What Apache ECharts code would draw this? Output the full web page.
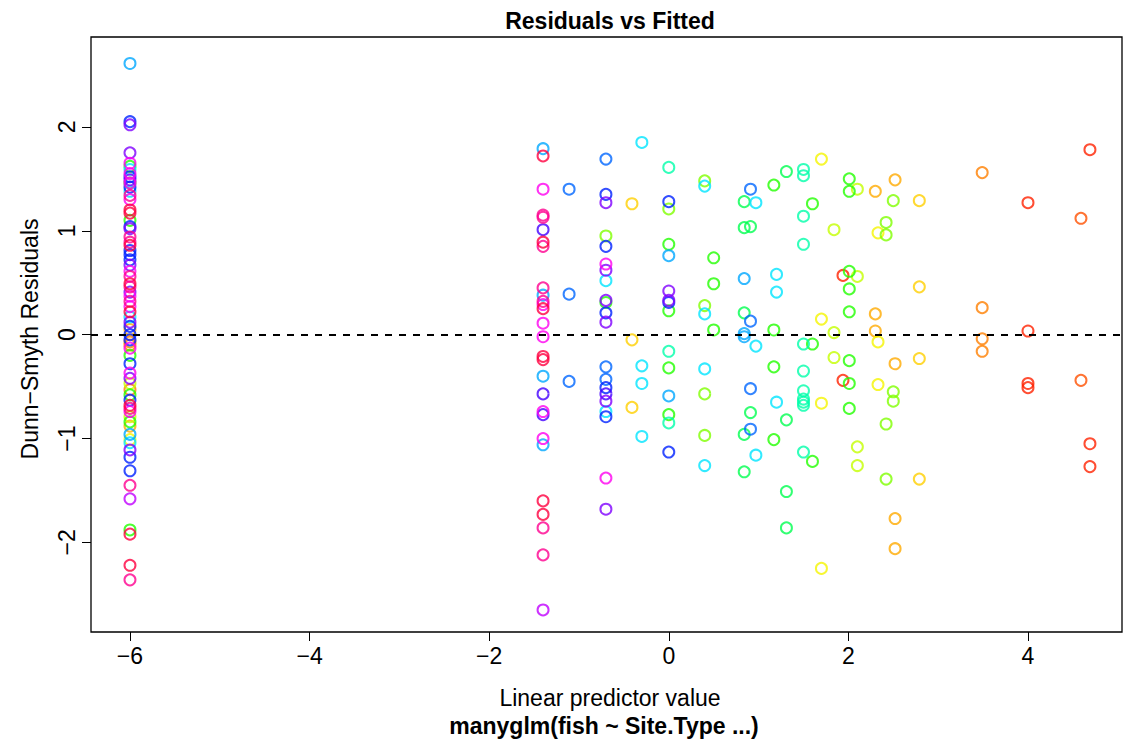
<!DOCTYPE html>
<html>
<head>
<meta charset="utf-8">
<script src="https://cdn.jsdelivr.net/npm/echarts@6/dist/echarts.min.js"></script>
<style>
  html, body { margin: 0; padding: 0; background: #fff; }
  #residChart { width: 1124px; height: 744px; }
</style>
</head>
<body>
<div id="residChart"></div>
<script>
// axis ticks
const xTicks = [-6, -4, -2, 0, 2, 4];
const yTicks = [-2, -1, 0, 1, 2];

// residuals per species colour, [fitted, residual]
const crimsonPts = [
  [-6, 1.20], [-6, 1.17], [-6, 0.86], [-6, 0.49], [-6, 0.22], [-6, -0.68], [-6, -1.92], [-6, -2.22],
  [-1.4, 1.72], [-1.4, 0.89], [-1.4, 0.25], [-1.4, -0.21], [-1.4, -0.24], [-1.4, -1.60], [-1.4, -1.73]
];
const pinkPts = [
  [-6, 1.34], [-6, 0.94], [-6, 0.89], [-6, 0.56], [-6, 0.46], [-6, 0.32], [-6, -0.71], [-6, -1.45], [-6, -2.36],
  [-1.4, 1.15], [-1.4, 1.13], [-1.4, 0.85], [-1.4, 0.45], [-1.4, 0.32], [-1.4, -1.86], [-1.4, -2.12]
];
const magentaPts = [
  [-6, 1.65], [-6, 1.55], [-6, 1.46], [-6, 1.30], [-6, 0.61], [-6, 0.37], [-6, 0.27], [-6, -0.13], [-6, -0.37], [-6, -0.74],
  [-1.4, 1.40], [-1.4, 0.29], [-1.4, 0.11], [-1.4, -0.02], [-1.4, -0.74], [-1.4, -1.00],
  [-0.7, 0.68], [-0.7, -1.38]
];
const purplePts = [[-6, -1.58], [-1.4, -2.65]];
const violetPts = [
  [-6, 2.02], [-6, 1.75], [-6, 1.49], [-6, 1.02], [-6, 0.67], [-6, 0.41], [-6, 0.12], [-6, -0.42], [-6, -1.11],
  [-0.7, 1.27], [-0.7, 0.62], [-0.7, 0.33], [-0.7, 0.12], [-0.7, -0.64], [-0.7, -1.68],
  [0, 0.42], [0, 0.33]
];
const indigoPts = [[-1.4, 1.01], [-1.4, -0.57], [-1.4, -0.77], [-0.7, -0.57]];
const bluePts = [
  [-6, 2.05], [-6, 1.52], [-6, 1.42], [-6, 1.04], [-6, 0.81], [-6, 0.77], [-6, 0.72], [-6, 0.08], [-6, 0.00],
  [-6, -0.05], [-6, -0.28], [-6, -0.63], [-6, -1.18], [-6, -1.31],
  [-0.7, 1.35], [-0.7, 0.85], [-0.7, 0.21], [-0.7, -0.51], [-0.7, -0.79],
  [0, 1.28], [0, 0.31], [0, -1.13]
];
const azurePts = [
  [-1.11, 1.40], [-1.11, 0.39], [-1.11, -0.45],
  [-0.7, 1.69], [-0.7, -0.31], [-0.7, -0.43],
  [0.91, 1.40], [0.91, 0.13], [0.91, -0.52], [0.91, -0.91]
];
const skyPts = [
  [-6, 2.61], [-6, -0.96],
  [-1.4, 1.79], [-1.4, 0.38], [-1.4, -0.40], [-1.4, -1.06],
  [0, 0.76], [0, -0.59],
  [0.84, 0.54], [0.84, 0.01], [0.84, -0.02]
];
const cyanPts = [
  [-6, 1.59], [-6, 1.38], [-6, 0.17], [-6, -1.04],
  [-0.7, 0.52], [-0.7, -0.74],
  [-0.3, 1.85], [-0.3, -0.30], [-0.3, -0.47], [-0.3, -0.98],
  [0.4, 1.43], [0.4, 0.20], [0.4, -0.33], [0.4, -1.26],
  [0.97, 1.27], [0.97, -0.11], [0.97, -1.16],
  [1.2, 0.58], [1.2, 0.41], [1.2, -0.65]
];
const aquaPts = [
  [0, 1.61], [0, -0.16], [0, -0.85],
  [1.5, 1.59], [1.5, 1.53], [1.5, 1.14], [1.5, 0.87], [1.5, -0.09], [1.5, -0.35], [1.5, -0.54],
  [1.5, -0.62], [1.5, -0.65], [1.5, -0.68], [1.5, -1.13]
];
const springPts = [
  [0.84, 1.28], [0.84, 1.03], [0.84, 0.21], [0.84, -0.96], [0.84, -1.32],
  [0.91, 1.04], [0.91, -0.75],
  [1.31, 1.57], [1.31, -0.82], [1.31, -1.51], [1.31, -1.86]
];
const greenPts = [
  [-6, 1.62], [-6, 1.46], [-6, 1.10], [-6, -0.20], [-6, -0.58], [-6, -0.84], [-6, -1.88],
  [-0.7, 0.31],
  [0, 0.87], [0, 0.23], [0, -0.32], [0, -0.77],
  [0.5, 0.74], [0.5, 0.49], [0.5, 0.045],
  [1.17, 1.44], [1.17, 0.045], [1.17, -0.31], [1.17, -1.01],
  [1.6, 1.26], [1.6, -0.09], [1.6, -1.22],
  [2.01, 1.50], [2.01, 1.38], [2.01, 0.61], [2.01, 0.44], [2.01, 0.22], [2.01, -0.25], [2.01, -0.47], [2.01, -0.71]
];
const chartreusePts = [
  [-0.7, 0.95], [0, 1.21],
  [0.4, 1.48], [0.4, 0.28], [0.4, -0.57], [0.4, -0.97],
  [2.42, 1.08], [2.42, 0.96], [2.42, -0.86], [2.42, -1.39],
  [2.5, 1.29], [2.5, -0.55], [2.5, -0.64]
];
const limePts = [
  [-6, -0.47], [-6, -0.79],
  [1.84, 1.01], [1.84, 0.02], [1.84, -0.22],
  [2.1, 1.40], [2.1, 0.56], [2.1, -1.08], [2.1, -1.26]
];
const yellowPts = [
  [-6, -1.01],
  [1.7, 1.69], [1.7, 0.15], [1.7, -0.66], [1.7, -2.25],
  [2.33, 0.98], [2.33, -0.07], [2.33, -0.48]
];
const goldPts = [
  [-0.41, 1.26], [-0.41, -0.05], [-0.41, -0.70],
  [2.79, 1.29], [2.79, 0.46], [2.79, -0.23], [2.79, -1.39]
];
const amberPts = [
  [-6, 0.05], [-6, -0.88],
  [2.3, 1.38], [2.3, 0.20], [2.3, 0.035],
  [2.52, 1.49], [2.52, -0.28], [2.52, -1.77], [2.52, -2.06]
];
const orangePts = [
  [-6, -0.07], [-6, -0.10], [-6, -0.53],
  [3.49, 1.56], [3.49, 0.26], [3.49, -0.04], [3.49, -0.16]
];
const redOrangePts = [[4.59, 1.12], [4.59, -0.44]];
const redPts = [
  [1.94, 0.57], [1.94, -0.44],
  [4.0, 1.27], [4.0, 0.035], [4.0, -0.47], [4.0, -0.51],
  [4.69, 1.78], [4.69, -1.05], [4.69, -1.27]
];

const groups = [
  { pts: redPts, color: '#ff2200' },
  { pts: redOrangePts, color: '#ff5000' },
  { pts: orangePts, color: '#ff8000' },
  { pts: amberPts, color: '#ffaa00' },
  { pts: goldPts, color: '#ffd000' },
  { pts: yellowPts, color: '#f5f500' },
  { pts: limePts, color: '#c4ff00' },
  { pts: chartreusePts, color: '#80ff00' },
  { pts: greenPts, color: '#22ff00' },
  { pts: springPts, color: '#00ff50' },
  { pts: aquaPts, color: '#00ffaa' },
  { pts: cyanPts, color: '#00e5ff' },
  { pts: skyPts, color: '#00a8ff' },
  { pts: azurePts, color: '#0066ff' },
  { pts: bluePts, color: '#0022ff' },
  { pts: indigoPts, color: '#4400ff' },
  { pts: violetPts, color: '#8000ff' },
  { pts: purplePts, color: '#c000ff' },
  { pts: magentaPts, color: '#ff00f0' },
  { pts: pinkPts, color: '#ff0090' },
  { pts: crimsonPts, color: '#ff0040' }
];

const FONT = '"Liberation Sans", Arial, Helvetica, sans-serif';

const series = groups.map(function (g, i) {
  const s = {
    type: 'scatter',
    data: g.pts,
    symbol: 'circle',
    symbolSize: 11,
    itemStyle: {
      color: 'rgba(0,0,0,0)',
      borderColor: g.color,
      borderWidth: 2
    },
    silent: true
  };
  if (i === 0) {
    s.markLine = {
      silent: true,
      symbol: 'none',
      label: { show: false },
      lineStyle: { color: '#000', width: 2.2, type: [7, 7] },
      data: [{ yAxis: 0 }]
    };
  }
  return s;
});

const myChart = echarts.init(document.getElementById('residChart'), null, { renderer: 'svg' });
myChart.setOption({
  animation: false,
  backgroundColor: '#fff',
  grid: {
    left: 91,
    right: 2,
    top: 37,
    bottom: 112,
    show: true,
    borderColor: '#000',
    borderWidth: 1.3
  },
  xAxis: {
    type: 'value',
    min: -6.434,
    max: 5.047,
    axisLine: { show: false, onZero: false },
    splitLine: { show: false },
    axisTick: {
      show: true,
      inside: false,
      length: 9,
      customValues: xTicks,
      lineStyle: { color: '#000', width: 1 }
    },
    axisLabel: {
      customValues: xTicks,
      margin: 12,
      color: '#000',
      fontSize: 23,
      fontFamily: FONT,
      formatter: function (v) { return String(v).replace('-', '\u2212'); }
    }
  },
  yAxis: {
    type: 'value',
    min: -2.862,
    max: 2.865,
    axisLine: { show: false, onZero: false },
    splitLine: { show: false },
    axisTick: {
      show: true,
      inside: false,
      length: 9,
      customValues: yTicks,
      lineStyle: { color: '#000', width: 1 }
    },
    axisLabel: {
      customValues: yTicks,
      rotate: 90,
      margin: 13,
      color: '#000',
      fontSize: 23,
      fontFamily: FONT,
      formatter: function (v) { return String(v).replace('-', '\u2212'); }
    }
  },
  graphic: [
    {
      type: 'text', x: 610, y: 21,
      style: { text: 'Residuals vs Fitted', fill: '#000', font: 'bold 23px ' + FONT, textAlign: 'center', textVerticalAlign: 'middle' }
    },
    {
      type: 'text', x: 610, y: 698,
      style: { text: 'Linear predictor value', fill: '#000', font: '23px ' + FONT, textAlign: 'center', textVerticalAlign: 'middle' }
    },
    {
      type: 'text', x: 604, y: 726,
      style: { text: 'manyglm(fish ~ Site.Type ...)', fill: '#000', font: 'bold 23px ' + FONT, textAlign: 'center', textVerticalAlign: 'middle' }
    },
    {
      type: 'text', x: 30, y: 339, rotation: Math.PI / 2,
      style: { text: 'Dunn\u2212Smyth Residuals', fill: '#000', font: '23px ' + FONT, textAlign: 'center', textVerticalAlign: 'middle' }
    }
  ],
  series: series
});
window.addEventListener('resize', () => {
  myChart.resize();
});
</script>
</body>
</html>
